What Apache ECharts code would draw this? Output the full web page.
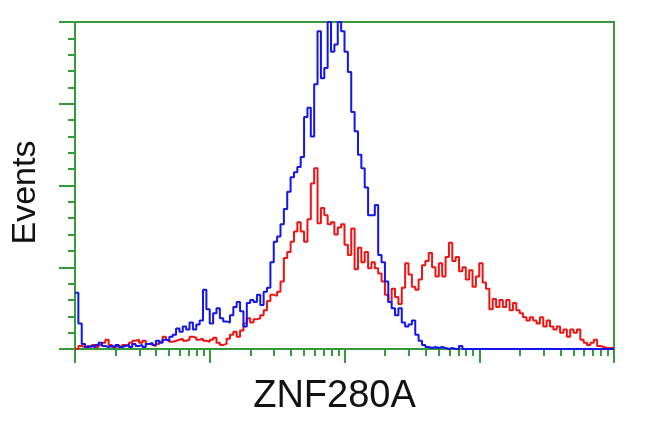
<!DOCTYPE html>
<html>
<head>
<meta charset="utf-8">
<script src="https://cdn.jsdelivr.net/npm/echarts@6/dist/echarts.min.js"></script>
<style>html,body{margin:0;padding:0;background:#fff;}#c{width:650px;height:432px;}</style>
</head>
<body>
<div id="c"></div>
<script>
// Histogram bins: log10 fluorescence from 0 to 4, bin width 0.025
var binStart = 0;
var binWidth = 0.025;
var xTitle = 'ZNF280A';
var yTitle = 'Events';
var majorTicks = [0, 1, 2, 3, 4];
var minorMultipliers = [2, 3, 4, 5, 6, 7, 8, 9];

var blueCounts = [55,25,5,2,3,2,4,6,3,2,3,2,4,2,3,4,2,5,3,4,2,5,6,4,8,6,9,8,12,14,20,17,22,19,26,19,24,28,58,39,25,35,40,30,27,26,33,41,46,37,22,45,48,46,53,43,56,60,85,105,110,122,137,154,168,173,178,188,227,236,208,259,311,265,275,320,291,298,320,311,291,271,232,213,190,177,158,131,131,141,92,85,66,46,40,33,40,26,22,24,28,14,8,4,2,1,2,1,2,1,0,1,0,0,3,0,0,0,0,0,0,0,0,0,0,0,0,0,0,0,0,0,0,0,0,0,0,0,0,0,0,0,0,0,0,0,0,0,0,0,0,0,0,0,0,0,0,0,0,0];
var redCounts = [0,3,2,3,2,4,2,4,6,9,4,2,3,2,4,3,6,8,9,6,8,5,4,3,5,7,12,9,7,8,9,10,8,9,12,11,9,10,8,7,9,11,6,4,5,10,14,17,12,18,25,30,26,29,30,33,38,47,53,52,56,66,89,95,105,115,124,115,105,127,162,177,123,138,131,122,124,112,119,122,102,92,118,78,99,85,95,79,85,79,74,66,53,46,59,51,44,60,84,73,61,58,68,82,86,94,80,71,84,71,90,104,86,90,76,80,68,77,61,71,84,65,59,39,49,41,48,41,48,38,45,38,35,31,28,31,28,25,31,22,28,22,19,22,16,19,12,19,16,19,9,6,4,6,9,3,2,1,1,1];

function toSeries(arr){
  var out = [];
  for (var i = 0; i < arr.length; i++) out.push([binStart + i*binWidth, arr[i]]);
  out.push([binStart + arr.length*binWidth, arr[arr.length-1]]);
  return out;
}
var minorTicks = [];
for (var d = 0; d < 4; d++) for (var k = 0; k < minorMultipliers.length; k++) minorTicks.push(d + Math.log10(minorMultipliers[k]));

var green = '#349a3a';
var chart = echarts.init(document.getElementById('c'));
chart.setOption({
  animation: false,
  grid: {left: 75, right: 36, top: 22, bottom: 83, show: true, borderColor: green, borderWidth: 2, backgroundColor: 'transparent'},
  xAxis: [{
    type: 'value', min: 0, max: 4,
    axisLine: {show: true, lineStyle: {color: green, width: 2}},
    axisTick: {show: true, customValues: majorTicks, length: 14, lineStyle: {color: green, width: 2}},
    axisLabel: {show: false},
    splitLine: {show: false},
    name: xTitle, nameLocation: 'middle', nameGap: 29,
    nameTextStyle: {color: '#111', fontSize: 38, fontFamily: 'Liberation Sans, Arial, sans-serif', padding: [0, 20, 0, 0]}
  }, {
    type: 'value', min: 0, max: 4, position: 'bottom',
    axisLine: {show: false},
    axisTick: {show: true, customValues: minorTicks, length: 7, lineStyle: {color: green, width: 2}},
    axisLabel: {show: false},
    splitLine: {show: false}
  }],
  yAxis: {
    type: 'value', min: 0, max: 320, interval: 80,
    axisLine: {show: true, lineStyle: {color: green, width: 2}},
    axisTick: {show: true, length: 16, lineStyle: {color: green, width: 2}},
    minorTick: {show: true, splitNumber: 5, length: 7, lineStyle: {color: green, width: 2}},
    axisLabel: {show: false},
    splitLine: {show: false},
    minorSplitLine: {show: false},
    name: yTitle, nameLocation: 'middle', nameGap: 32, nameRotate: 90,
    nameTextStyle: {color: '#111', fontSize: 34, fontFamily: 'Liberation Sans, Arial, sans-serif', padding: [0, 14, 0, 0]}
  },
  series: [{
    type: 'line', step: 'end', data: toSeries(redCounts), showSymbol: false,
    lineStyle: {color: '#ee1414', width: 2}, itemStyle: {color: '#ee1414'}, z: 2
  }, {
    type: 'line', step: 'end', data: toSeries(blueCounts), showSymbol: false,
    lineStyle: {color: '#1414ee', width: 2}, itemStyle: {color: '#1414ee'}, z: 3
  }]
});
</script>
</body>
</html>
